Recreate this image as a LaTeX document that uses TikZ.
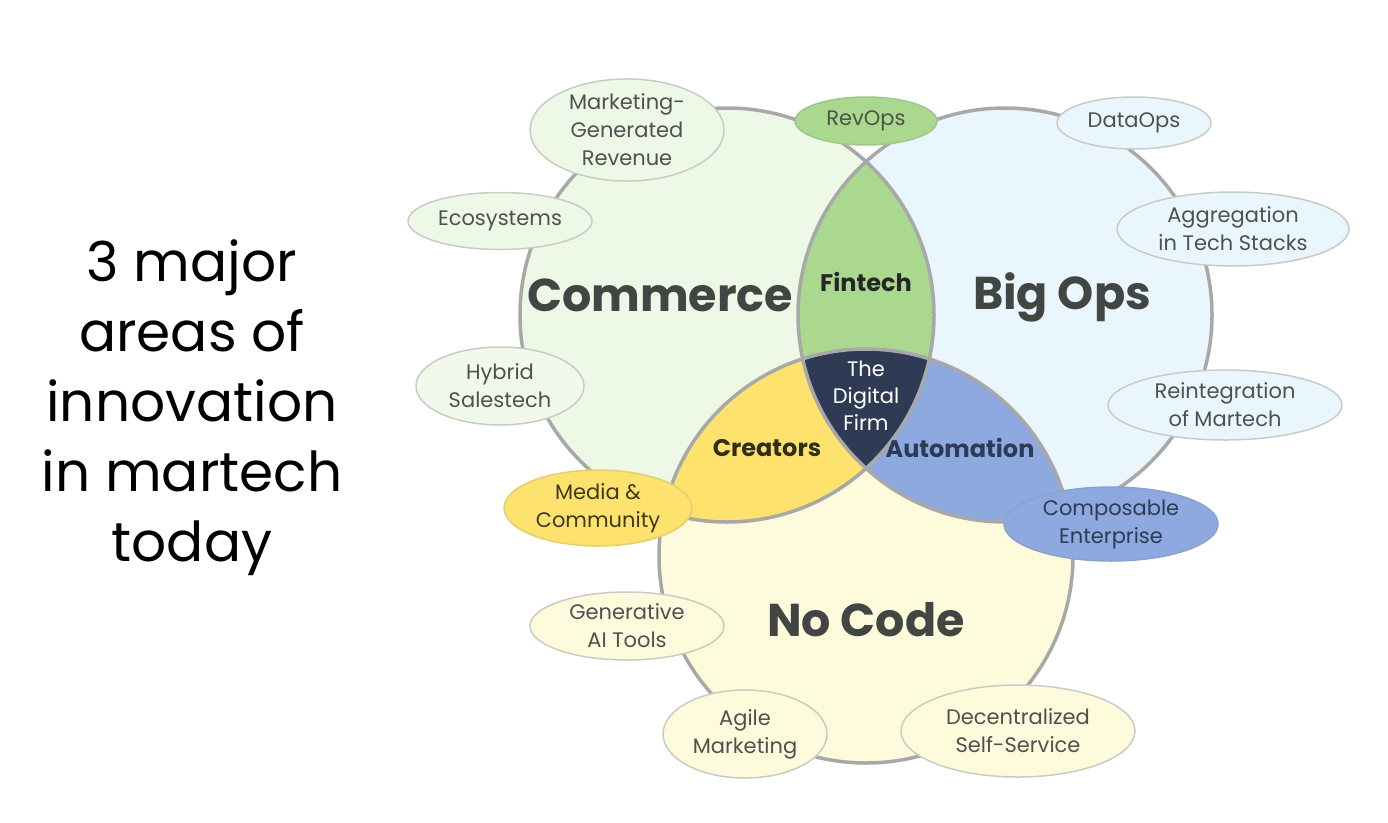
\documentclass[tikz,border=0pt]{standalone}
\usepackage{fontspec}
\setmainfont{Poppins}
\usetikzlibrary{shapes.geometric}

\definecolor{ringgray}{HTML}{A8A8A8}
\definecolor{bubbleline}{HTML}{C8CCC4}
\definecolor{commercefill}{HTML}{EEF8E6}
\definecolor{opsfill}{HTML}{EAF6FD}
\definecolor{nocodefill}{HTML}{FDFBDC}
\definecolor{fintechgreen}{HTML}{A9D88E}
\definecolor{creatoryellow}{HTML}{FDE26E}
\definecolor{automationblue}{HTML}{8EA9DF}
\definecolor{firmnavy}{HTML}{2F3B55}
\definecolor{labelgray}{HTML}{424642}
\definecolor{bubbletext}{HTML}{4E524E}

\tikzset{
  ring/.style={draw=ringgray, line width=3.5pt},
  bubble/.style={ellipse, draw=bubbleline, line width=1.5pt, inner sep=0pt,
    align=center, text=bubbletext, font=\fontsize{21}{28}\selectfont},
  biglabel/.style={text=labelgray, font=\fontsize{46}{50}\selectfont\bfseries},
  lenslabel/.style={font=\fontsize{24}{28}\selectfont\bfseries}
}

\begin{document}
\begin{tikzpicture}[x=1pt, y=-1pt]
  \useasboundingbox (0,0) rectangle (1388,822);

  % circle centres
  \coordinate (com) at (727,315);
  \coordinate (ops) at (1005,315);
  \coordinate (noc) at (866,556);

  % big circles
  \fill[commercefill] (com) circle (207);
  \fill[opsfill] (ops) circle (207);
  \fill[nocodefill] (noc) circle (207);

  % overlaps
  \begin{scope}
    \clip (com) circle (207);
    \fill[fintechgreen] (ops) circle (207);
    \fill[creatoryellow] (noc) circle (207);
  \end{scope}
  \begin{scope}
    \clip (ops) circle (207);
    \fill[automationblue] (noc) circle (207);
    \clip (com) circle (207);
    \fill[firmnavy] (noc) circle (207);
  \end{scope}

  \draw[ring] (com) circle (207);
  \draw[ring] (ops) circle (207);
  \draw[ring] (noc) circle (207);

  % area labels
  \node[biglabel] (commerce) at (660,295) {Commerce};
  \node[biglabel] (bigops) at (1062,297) {Big Ops};
  \node[biglabel] (nocode) at (866,620) {No Code};
  \node[lenslabel, text=black!85] (fintech) at (866,282) {Fintech};
  \node[lenslabel, text=black!80!creatoryellow] (creators) at (767,448) {Creators};
  \node[lenslabel, text=firmnavy] (automation) at (960,448) {Automation};
  \node[align=center, text=white, font=\fontsize{21}{27}\selectfont] (firm) at (866,396) {The\\Digital\\Firm};

  % bubbles round the edge
  \node[bubble, fill=commercefill, minimum width=194, minimum height=96] (mgr) at (627,130) {Marketing-\\Generated\\Revenue};
  \node[bubble, fill=fintechgreen, draw=fintechgreen!80!gray, minimum width=142, minimum height=48] (revops) at (866,121) {RevOps};
  \node[bubble, fill=opsfill, minimum width=154, minimum height=52] (dataops) at (1134,123) {DataOps};
  \node[bubble, fill=commercefill, minimum width=184, minimum height=57] (eco) at (500,221) {Ecosystems};
  \node[bubble, fill=opsfill, minimum width=232, minimum height=74] (aggr) at (1233,229) {Aggregation\\in Tech Stacks};
  \node[bubble, fill=commercefill!80!white, minimum width=168, minimum height=78] (hybrid) at (500,386) {Hybrid\\Salestech};
  \node[bubble, fill=opsfill, minimum width=234, minimum height=70] (reint) at (1225,405) {Reintegration\\of Martech};
  \node[bubble, fill=creatoryellow, draw=creatoryellow!80!gray, text=black!75!creatoryellow, minimum width=188, minimum height=76] (media) at (598,508) {Media \&\\Community};
  \node[bubble, fill=automationblue, draw=automationblue!80!gray, text=firmnavy, minimum width=214, minimum height=74] (compos) at (1111,524) {Composable\\Enterprise};
  \node[bubble, fill=nocodefill, minimum width=194, minimum height=68] (genai) at (627,626) {Generative\\AI Tools};
  \node[bubble, fill=nocodefill, minimum width=164, minimum height=88] (agile) at (745,734) {Agile\\Marketing};
  \node[bubble, fill=nocodefill, minimum width=234, minimum height=92] (decen) at (1018,731) {Decentralized\\Self-Service};

  % headline on the left
  \node[align=center, font=\fontsize{55}{70}\selectfont] (headline) at (192,408) {3 major\\areas of\\innovation\\in martech\\today};
\end{tikzpicture}
\end{document}
